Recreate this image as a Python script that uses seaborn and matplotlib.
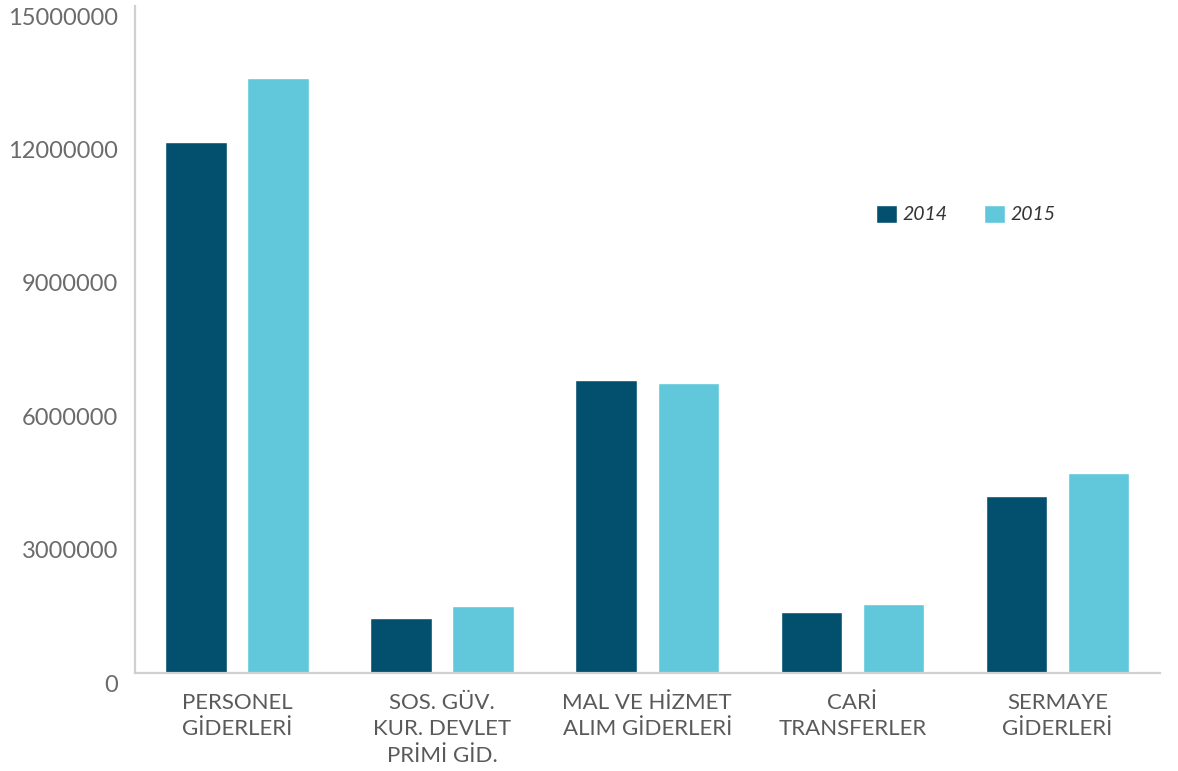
import pandas as pd
import matplotlib.pyplot as plt
import seaborn as sns
from matplotlib.ticker import FixedLocator, FuncFormatter
from matplotlib.transforms import ScaledTranslation

# Veri
kategoriler = ["PERSONEL\nGİDERLERİ", "SOS. GÜV.\nKUR. DEVLET\nPRİMİ GİD.",
               "MAL VE HİZMET\nALIM GİDERLERİ", "CARİ\nTRANSFERLER", "SERMAYE\nGİDERLERİ"]
yillar = ["2014", "2015"]
deger_2014 = [11940000, 1250000, 6600000, 1380000, 3990000]
deger_2015 = [13380000, 1520000, 6530000, 1560000, 4510000]
y_ticks = [0, 3000000, 6000000, 9000000, 12000000, 15000000]
renkler = ["#02506E", "#61C8DB"]

df = pd.DataFrame({
    "kategori": kategoriler * 2,
    "yil": [yillar[0]] * 5 + [yillar[1]] * 5,
    "deger": deger_2014 + deger_2015,
})

sns.set_style("white")
plt.rcParams['font.family'] = ['Lato', 'DejaVu Sans']

fig = plt.figure(figsize=(11.78, 7.71), dpi=100)
ax = fig.add_axes([0.1142, 0.1265, 0.8705, 0.8657])

sns.barplot(data=df, x="kategori", y="deger", hue="yil", palette=renkler,
            width=0.8, gap=0.25, saturation=1, ax=ax)

ax.set_xlim(-0.5, 4.5)
ax.set_ylim(0, 15000000)
ax.set_xlabel("")
ax.set_ylabel("")

# eksen cizgileri
for s in ["top", "right"]:
    ax.spines[s].set_visible(False)
for s in ["left", "bottom"]:
    ax.spines[s].set_color("#d0d0d0")
    ax.spines[s].set_linewidth(1.6)

ax.yaxis.set_major_locator(FixedLocator(y_ticks))
ax.yaxis.set_major_formatter(FuncFormatter(lambda v, p: f"{int(v)}"))
ax.tick_params(axis="y", length=0, pad=12, labelsize=17, labelcolor="#6b6b6b")
for lbl in ax.get_yticklabels():
    lbl.set_transform(lbl.get_transform() + ScaledTranslation(0, -0.1, fig.dpi_scale_trans))

ax.tick_params(axis="x", which="major", length=0, pad=14, labelsize=16, labelcolor="#5a5a5a")
for lbl in ax.get_xticklabels():
    lbl.set_linespacing(1.4)
ax.set_xticks([i - 0.5 for i in range(6)], minor=True)
ax.tick_params(axis="x", which="minor", direction="in", length=11.5, width=1.4, color="#d0d0d0")

# legend
h, l = ax.get_legend_handles_labels()
ax.legend(h, l, loc="center", bbox_to_anchor=(966 / 1178, 1 - 214 / 771),
          bbox_transform=fig.transFigure, ncol=2, frameon=False,
          prop={"style": "italic", "size": 14}, labelcolor="#333333",
          handlelength=1.05, handleheight=1.05, handletextpad=0.3, columnspacing=1.9)

plt.savefig("out.png", dpi=100)
